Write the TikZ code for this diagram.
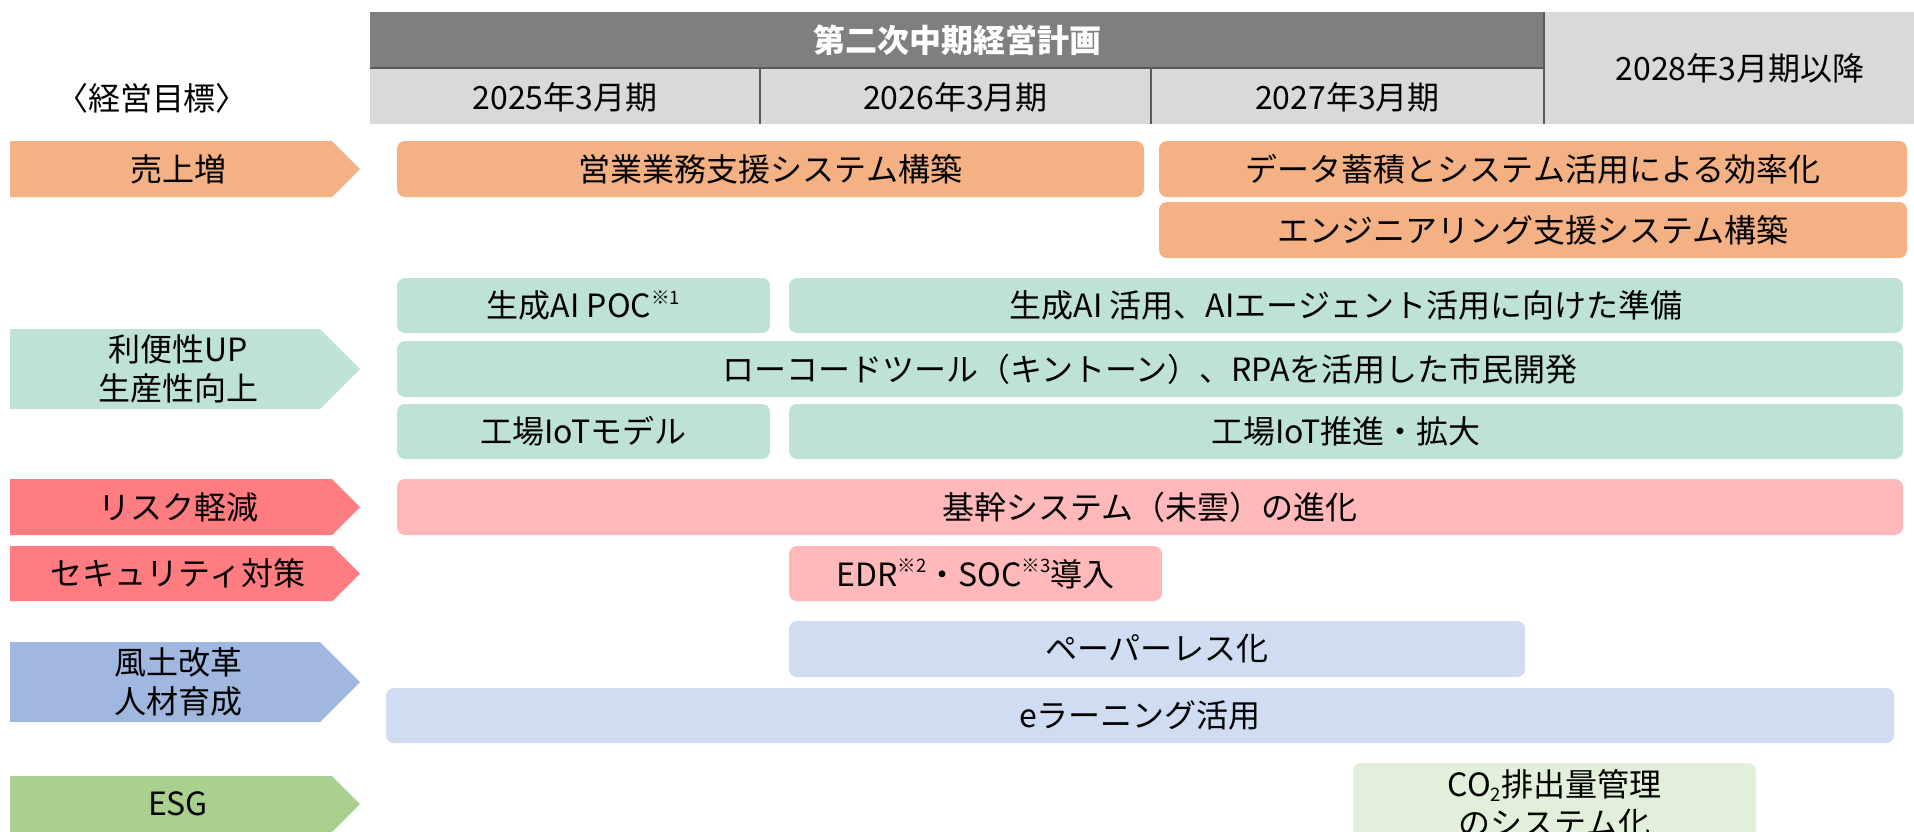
\documentclass[tikz,border=0pt]{standalone}
\usepackage{fontspec}
\setmainfont{Noto Sans CJK JP}
\definecolor{cOrange}{HTML}{F4B183}
\definecolor{cTeal}{HTML}{BEE1D8}
\definecolor{cRedA}{HTML}{FF7C80}
\definecolor{cRedB}{HTML}{FFB9BB}
\definecolor{cBlueA}{HTML}{A0B7E0}
\definecolor{cBlueB}{HTML}{CFDCF2}
\definecolor{cGreenA}{HTML}{A9D08E}
\definecolor{cGreenB}{HTML}{E2EFDA}
\definecolor{cDark}{HTML}{7F7F7F}
\definecolor{cLine}{HTML}{595959}
\definecolor{cLight}{HTML}{D9D9D9}
\newcommand\notesup[1]{{\fontsize{18.5}{18.5}\selectfont\raisebox{0.75em}{#1}}}
\newcommand\notesub[1]{{\fontsize{18.5}{18.5}\selectfont\raisebox{-0.3em}{#1}}}
\tikzset{
  lbl/.style={font=\fontsize{32}{39}\selectfont, text=black, align=center, inner sep=0pt},
  barbox/.style={lbl, rounded corners=8pt, draw=none},
}
% name, x1, y1, x2, y2, fill, text
\newcommand\tbar[7]{%
  \pgfmathsetmacro\bw{#4-#2}\pgfmathsetmacro\bh{#5-#3}%
  \pgfmathsetmacro\bx{(#2+#4)/2}\pgfmathsetmacro\by{(#3+#5)/2}%
  \node[barbox, fill=#6, minimum width=\bw pt, minimum height=\bh pt] (#1) at (\bx,\by) {#7};}
% name, y1, y2, fill, text
\newcommand\goalarrow[5]{%
  \pgfmathsetmacro\gb{360-(#3-#2)/2}\pgfmathsetmacro\gm{(#2+#3)/2}%
  \fill[#4] (10,#2) -- (\gb,#2) -- (360,\gm) -- (\gb,#3) -- (10,#3) -- cycle;
  \node[lbl] (#1) at (178,\gm) {#5};}
\begin{document}
\begin{tikzpicture}[x=1pt,y=-1pt]
\useasboundingbox (0,0) rectangle (1914,831);
\clip (0,0) rectangle (1914,831);
% header
\fill[cDark] (370,12) rectangle (1544,68);
\fill[cLight] (370,68) rectangle (1544,124);
\fill[cLight] (1544,12) rectangle (1930,124);
\draw[cLine, line width=2pt] (370,68) -- (1544,68);
\draw[cLine, line width=2pt] (760,68) -- (760,124);
\draw[cLine, line width=2pt] (1151,68) -- (1151,124);
\draw[cLine, line width=2pt] (1544,12) -- (1544,124);
\node[lbl, text=white, font=\fontsize{32}{39}\selectfont\bfseries] (plan) at (957,40) {第二次中期経営計画};
\node[lbl] (y25) at (565,97) {2025年3月期};
\node[lbl] (y26) at (955.5,97) {2026年3月期};
\node[lbl] (y27) at (1347.5,97) {2027年3月期};
\node[lbl] (y28) at (1740,68) {2028年3月期以降};
\node[lbl] (goal) at (152,98) {〈経営目標〉};
% goals
\goalarrow{g1}{141}{197}{cOrange}{売上増}
\goalarrow{g2}{329}{409}{cTeal}{利便性UP\\生産性向上}
\goalarrow{g3}{479}{535}{cRedA}{リスク軽減}
\goalarrow{g4}{546}{601}{cRedA}{セキュリティ対策}
\goalarrow{g5}{642}{722}{cBlueA}{風土改革\\人材育成}
\goalarrow{g6}{776}{832}{cGreenA}{ESG}
% bars
\tbar{b1}{397}{141}{1144}{197}{cOrange}{営業業務支援システム構築}
\tbar{b2}{1159}{141}{1907}{197}{cOrange}{データ蓄積とシステム活用による効率化}
\tbar{b3}{1159}{202}{1907}{258}{cOrange}{エンジニアリング支援システム構築}
\tbar{b4}{397}{278}{770}{333}{cTeal}{生成AI POC\notesup{※1}}
\tbar{b5}{789}{278}{1903}{333}{cTeal}{生成AI 活用、AIエージェント活用に向けた準備}
\tbar{b6}{397}{341}{1903}{397}{cTeal}{ローコードツール（キントーン）、RPAを活用した市民開発}
\tbar{b7}{397}{404}{770}{459}{cTeal}{工場IoTモデル}
\tbar{b8}{789}{404}{1903}{459}{cTeal}{工場IoT推進・拡大}
\tbar{b9}{397}{479}{1903}{535}{cRedB}{基幹システム（未雲）の進化}
\tbar{b10}{789}{546}{1162}{601}{cRedB}{EDR\notesup{※2}・SOC\notesup{※3}導入}
\tbar{b11}{789}{621}{1525}{677}{cBlueB}{ペーパーレス化}
\tbar{b12}{386}{688}{1894}{743}{cBlueB}{eラーニング活用}
\tbar{b13}{1353}{763}{1756}{844}{cGreenB}{CO\notesub{2}排出量管理\\のシステム化}
\end{tikzpicture}
\end{document}
